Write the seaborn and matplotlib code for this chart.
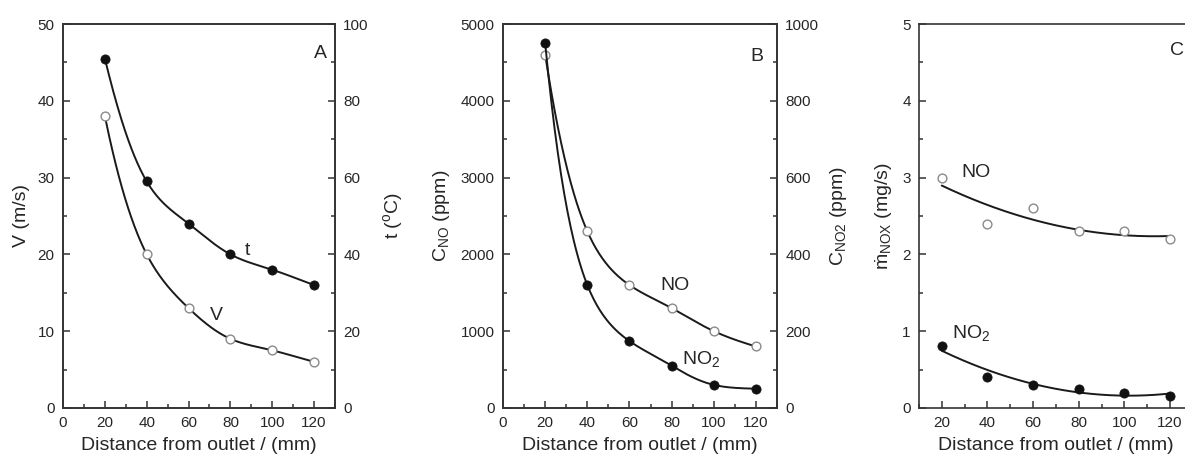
import numpy as np
import pandas as pd
import seaborn as sns
import matplotlib.pyplot as plt
from matplotlib.ticker import MultipleLocator

sns.set_style("ticks")
plt.rcParams['font.family'] = ['Liberation Sans', 'DejaVu Sans']
plt.rcParams['mathtext.fontset'] = 'custom'
plt.rcParams['mathtext.rm'] = 'Liberation Sans'
plt.rcParams['mathtext.it'] = 'Liberation Sans:italic'

# distance from outlet (mm)
distance = [20, 40, 60, 80, 100, 120]

# panel A
velocity = [38, 20, 13, 9, 7.5, 6]          # V (m/s), left axis
temperature = [91, 59, 48, 40, 36, 32]      # t (oC), right axis

# panel B
c_no = [4600, 2300, 1600, 1300, 1000, 800]  # ppm, left axis
c_no2 = [950, 320, 174, 110, 60, 50]        # ppm, right axis

# panel C
m_no = [3.0, 2.4, 2.6, 2.3, 2.3, 2.2]       # mg/s
m_no2 = [0.8, 0.4, 0.3, 0.25, 0.2, 0.15]    # mg/s


def log_spline(x, y, n=200):
    # natural cubic spline through log(y), smooth decaying curves
    x = np.asarray(x, float)
    y = np.log(np.asarray(y, float))
    k = len(x)
    h = np.diff(x)
    A = np.zeros((k, k))
    b = np.zeros(k)
    A[0, 0] = A[-1, -1] = 1
    for i in range(1, k - 1):
        A[i, i - 1] = h[i - 1]
        A[i, i] = 2 * (h[i - 1] + h[i])
        A[i, i + 1] = h[i]
        b[i] = 3 * ((y[i + 1] - y[i]) / h[i] - (y[i] - y[i - 1]) / h[i - 1])
    c = np.linalg.solve(A, b)
    xs = np.linspace(x[0], x[-1], n)
    idx = np.clip(np.searchsorted(x, xs) - 1, 0, k - 2)
    dx = xs - x[idx]
    bb = (y[idx + 1] - y[idx]) / h[idx] - h[idx] * (2 * c[idx] + c[idx + 1]) / 3
    d = (c[idx + 1] - c[idx]) / (3 * h[idx])
    return xs, np.exp(y[idx] + bb * dx + c[idx] * dx ** 2 + d * dx ** 3)


def quad_fit(x, y, n=200):
    p = np.polyfit(x, y, 2)
    xs = np.linspace(min(x), max(x), n)
    return xs, np.polyval(p, xs)


line_kw = dict(color='#1a1a1a', linewidth=1.4)
open_kw = dict(s=40, facecolor='white', edgecolor='#8a8a8a', linewidth=1.0, zorder=3)
fill_kw = dict(s=44, color='#111111', edgecolor='#111111', zorder=3)
FS = 14


def draw_curve(ax, xs, ys):
    sns.lineplot(x=xs, y=ys, ax=ax, **line_kw)


def style(ax, xmin, xmax, ymax, ymaj, ymin):
    ax.set_xlim(xmin, xmax)
    ax.set_ylim(0, ymax)
    ax.xaxis.set_major_locator(MultipleLocator(20))
    ax.xaxis.set_minor_locator(MultipleLocator(10))
    ax.yaxis.set_major_locator(MultipleLocator(ymaj))
    ax.yaxis.set_minor_locator(MultipleLocator(ymin))
    ax.tick_params(which='both', direction='in', labelsize=11, width=1.1,
                   color='#333333', pad=6)
    ax.tick_params(which='major', length=5)
    ax.tick_params(which='minor', length=3)
    for s in ax.spines.values():
        s.set_linewidth(1.2)
        s.set_color('#333333')
    ax.set_xlabel('Distance from outlet / (mm)', fontsize=FS, labelpad=5)


fig = plt.figure(figsize=(11.85, 4.63), dpi=100)
bottom, height = 0.119, 0.829

# ---- panel A
axA = fig.add_axes([0.0532, bottom, 0.2295, height])
axA2 = axA.twinx()
draw_curve(axA, *log_spline(distance, velocity))
sns.scatterplot(x=distance, y=velocity, ax=axA, **open_kw)
draw_curve(axA2, *log_spline(distance, temperature))
sns.scatterplot(x=distance, y=temperature, ax=axA2, **fill_kw)
style(axA, 0, 130, 50, 10, 5)
style(axA2, 0, 130, 100, 20, 10)
axA.set_ylabel('V (m/s)', fontsize=FS)
axA2.set_ylabel(r't ($^{\rm o}$C)', fontsize=FS)
axA.yaxis.set_label_coords(-0.121, 0.5)
axA2.yaxis.set_label_coords(1.17, 0.5)
axA.text(123, 46.2, 'A', fontsize=FS, ha='center', va='center')
axA.text(88, 20.5, 't', fontsize=FS, ha='center', va='center')
axA.text(73.5, 12.1, 'V', fontsize=FS, ha='center', va='center')

# ---- panel B
axB = fig.add_axes([0.4245, bottom, 0.2312, height])
axB2 = axB.twinx()
draw_curve(axB, *log_spline(distance, c_no))
sns.scatterplot(x=distance, y=c_no, ax=axB, **open_kw)
draw_curve(axB2, *log_spline(distance, c_no2))
sns.scatterplot(x=distance, y=c_no2, ax=axB2, **fill_kw)
style(axB, 0, 130, 5000, 1000, 500)
style(axB2, 0, 130, 1000, 200, 100)
axB.set_ylabel(r'C$_{\rm NO}$ (ppm)', fontsize=FS)
axB2.set_ylabel(r'C$_{\rm NO2}$ (ppm)', fontsize=FS)
axB.yaxis.set_label_coords(-0.186, 0.5)
axB2.yaxis.set_label_coords(1.186, 0.5)
axB.text(120.5, 4580, 'B', fontsize=FS, ha='center', va='center')
axB.text(81.5, 1600, 'NO', fontsize=FS, ha='center', va='center')
axB.text(94, 640, r'NO$_2$', fontsize=FS, ha='center', va='center')

# ---- panel C (cut at the right edge of the figure)
axC = fig.add_axes([0.7755, bottom, 0.2312, height])
draw_curve(axC, *quad_fit(distance, m_no))
sns.scatterplot(x=distance, y=m_no, ax=axC, **open_kw)
draw_curve(axC, *quad_fit(distance, m_no2))
sns.scatterplot(x=distance, y=m_no2, ax=axC, **fill_kw)
style(axC, 10, 130, 5, 1, 0.5)
axC.set_ylabel(r'$\dot{\rm m}_{\rm NOX}$ (mg/s)', fontsize=FS)
axC.yaxis.set_label_coords(-0.088, 0.5)
axC.text(123, 4.65, 'C', fontsize=FS, ha='center', va='center')
axC.text(35, 3.07, 'NO', fontsize=FS, ha='center', va='center')
axC.text(33, 0.98, r'NO$_2$', fontsize=FS, ha='center', va='center')

fig.savefig('out.png', dpi=100)
